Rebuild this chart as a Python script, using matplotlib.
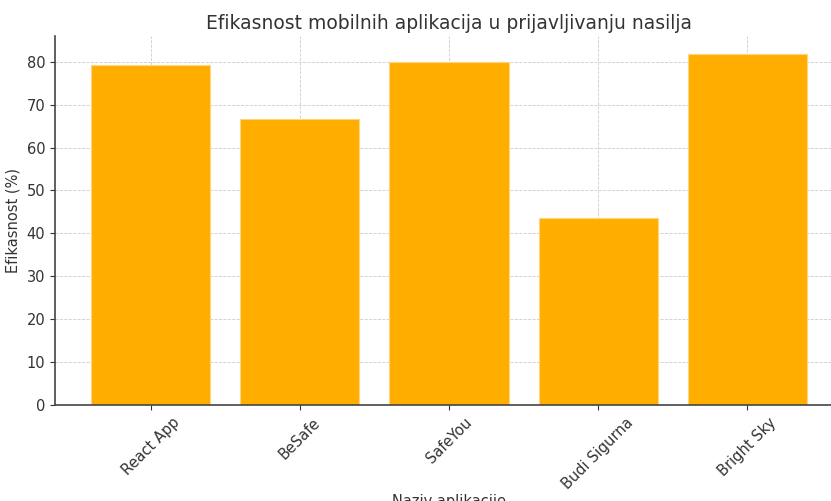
import matplotlib
matplotlib.use('Agg')
import matplotlib.pyplot as plt

apps = ['React App', 'BeSafe', 'SafeYou', 'Budi Sigurna', 'Bright Sky']
efficiency = [79.3, 66.7, 80.0, 43.6, 81.9]

text_color = '#333333'

fig = plt.figure(figsize=(8.31, 5.01), dpi=100)
# axes runs past the right edge, like the cropped original
ax = fig.add_axes([55 / 831, 96 / 501, 788 / 831, 369 / 501])

ax.bar(apps, efficiency, color='#FFAE00', edgecolor='#FFD580', linewidth=0.8, zorder=2)

ax.set_title('Efikasnost mobilnih aplikacija u prijavljivanju nasilja',
             fontsize=13.5, color=text_color, pad=5)
ax.set_xlabel('Naziv aplikacije', fontsize=10.5, color=text_color, labelpad=2)
ax.set_ylabel('Efikasnost (%)', fontsize=10.5, color=text_color, labelpad=4)

ax.grid(True, linestyle='--', linewidth=0.6, color='#cccccc', zorder=0)
ax.set_axisbelow(True)

for s in ['top', 'right']:
    ax.spines[s].set_visible(False)
for s in ['left', 'bottom']:
    ax.spines[s].set_color('#444444')
    ax.spines[s].set_linewidth(1.2)

ax.tick_params(colors=text_color, labelsize=10.5)
plt.setp(ax.get_xticklabels(), rotation=45)

fig.savefig('out.png', dpi=100)
